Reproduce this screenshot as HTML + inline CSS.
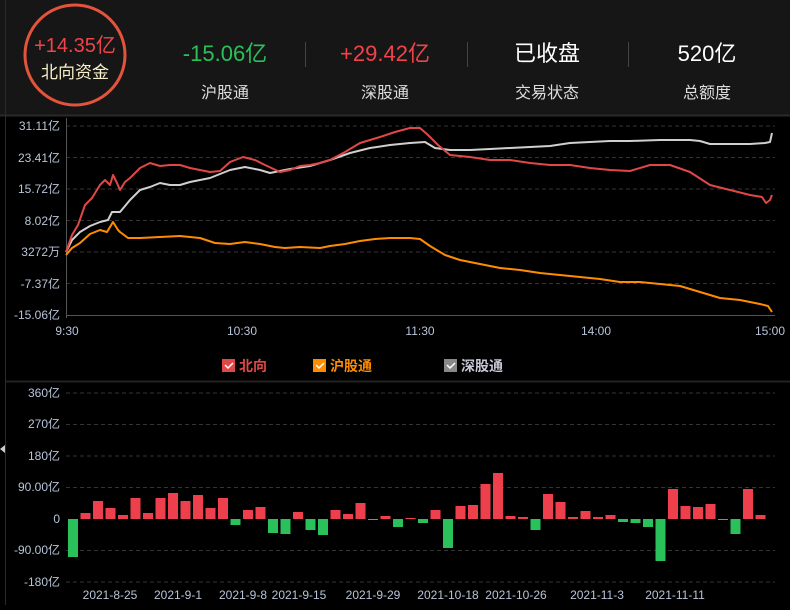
<!DOCTYPE html><html><head><meta charset="utf-8"><style>
body{margin:0;width:790px;height:605px;background:#000;overflow:hidden;font-family:"Liberation Sans","Noto Sans CJK SC",sans-serif}
</style></head><body>
<svg width="790" height="605" xmlns="http://www.w3.org/2000/svg" font-family="Liberation Sans, Noto Sans CJK SC, sans-serif">
<rect x="0" y="0" width="790" height="115" fill="#161616"/>
<rect x="0" y="115" width="790" height="490" fill="#000"/>
<line x1="5.5" y1="0" x2="5.5" y2="605" stroke="#2a2a2a"/>
<line x1="0" y1="115.5" x2="790" y2="115.5" stroke="#2a2a2a" stroke-width="2"/>
<circle cx="75" cy="55" r="50" fill="none" stroke="#e4533b" stroke-width="3"/>
<text x="75" y="52" text-anchor="middle" font-size="20" fill="#f0434a">+14.35亿</text>
<text x="75" y="78" text-anchor="middle" font-size="17" fill="#f5f0c8">北向资金</text>
<text x="225" y="61" text-anchor="middle" font-size="22" fill="#2ac05a">-15.06亿</text>
<text x="225" y="98" text-anchor="middle" font-size="16" fill="#ddd">沪股通</text>
<text x="385" y="61" text-anchor="middle" font-size="22" fill="#f0434a">+29.42亿</text>
<text x="385" y="98" text-anchor="middle" font-size="16" fill="#ddd">深股通</text>
<text x="547" y="61" text-anchor="middle" font-size="22" fill="#fff">已收盘</text>
<text x="547" y="98" text-anchor="middle" font-size="16" fill="#ddd">交易状态</text>
<text x="707" y="61" text-anchor="middle" font-size="22" fill="#fff">520亿</text>
<text x="707" y="98" text-anchor="middle" font-size="16" fill="#ddd">总额度</text>
<g stroke="#444"><line x1="305.5" y1="42" x2="305.5" y2="67"/><line x1="467.5" y1="42" x2="467.5" y2="67"/><line x1="628.5" y1="42" x2="628.5" y2="67"/></g>
<g stroke="#333" stroke-dasharray="4,3">
<line x1="66" y1="126" x2="775" y2="126"/><line x1="66" y1="157.5" x2="775" y2="157.5"/><line x1="66" y1="189" x2="775" y2="189"/><line x1="66" y1="220.5" x2="775" y2="220.5"/><line x1="66" y1="252" x2="775" y2="252"/><line x1="66" y1="283.5" x2="775" y2="283.5"/>
</g>
<line x1="66.5" y1="118" x2="66.5" y2="318" stroke="#555"/>
<line x1="66" y1="315.5" x2="775" y2="315.5" stroke="#555"/>
<g font-size="12" fill="#b8c4d8" text-anchor="end">
<text x="60" y="130">31.11亿</text><text x="60" y="162">23.41亿</text><text x="60" y="193">15.72亿</text><text x="60" y="225">8.02亿</text><text x="60" y="256">3272万</text><text x="60" y="288">-7.37亿</text><text x="60" y="319">-15.06亿</text>
</g>
<g font-size="12" fill="#b8c4d8" text-anchor="middle">
<text x="67" y="335">9:30</text><text x="242" y="335">10:30</text><text x="420" y="335">11:30</text><text x="596" y="335">14:00</text><text x="770" y="335">15:00</text>
</g>
<g fill="none" stroke-width="2" stroke-linejoin="round">
<polyline stroke="#ff8c00" points="66,255 72,248 80,243 90,234 100,230 107,232 113,222 118,230 120,232 128,238 140,238 160,237 180,236 200,238 215,243 230,244 245,242 260,244 275,247 285,248 300,247 320,248 330,246 345,244 360,241 375,239 390,238 410,238 420,239 430,246 445,255 460,260 480,264 500,268 520,270 540,273 560,275 580,277 600,279 620,282 640,282 660,284 680,286 700,292 720,298 740,300 760,304 768,306 772,312"/>
<polyline stroke="#cfcfcf" points="66,252 72,240 80,232 90,226 100,222 108,220 112,212 120,212 130,200 140,190 150,187 160,183 170,185 180,185 190,182 200,180 210,178 230,170 245,167 260,170 270,173 290,169 310,166 330,160 350,153 370,148 390,145 410,143 425,142 435,148 450,150 470,150 490,149 510,148 530,147 550,146 570,143 590,142 610,141 630,141 660,140 690,140 700,141 710,144 730,144 750,144 765,143 770,142 772,133"/>
<polyline stroke="#e04848" points="66,252 72,235 78,225 85,205 92,198 100,185 105,180 110,185 113,175 117,183 120,190 125,182 130,178 140,168 150,163 160,166 170,165 180,165 190,168 200,170 210,172 220,171 230,162 243,157 255,160 265,165 280,172 290,170 300,166 310,165 320,163 330,160 345,152 360,143 380,137 395,132 410,128 420,128 428,135 438,145 450,155 470,157 490,160 510,160 530,163 550,165 570,165 590,168 610,170 630,171 650,165 670,165 690,172 710,185 730,190 750,195 762,197 766,203 770,200 772,195"/>
</g>
<g font-size="14" font-weight="bold">
<rect x="222" y="359" width="13" height="13" fill="#e04848"/><path d="M225,365 l3,3 l5,-5" stroke="#fff" fill="none" stroke-width="1.5"/><text x="239" y="371" fill="#e04848">北向</text>
<rect x="313" y="359" width="13" height="13" fill="#ff8c00"/><path d="M316,365 l3,3 l5,-5" stroke="#fff" fill="none" stroke-width="1.5"/><text x="330" y="371" fill="#ff8c00">沪股通</text>
<rect x="444" y="359" width="13" height="13" fill="#888"/><path d="M447,365 l3,3 l5,-5" stroke="#fff" fill="none" stroke-width="1.5"/><text x="461" y="371" fill="#c8c8d8">深股通</text>
</g>
<line x1="6" y1="381.5" x2="790" y2="381.5" stroke="#222" stroke-width="2"/>
<g stroke="#333" stroke-dasharray="4,3">
<line x1="66" y1="393" x2="775" y2="393"/><line x1="66" y1="424.5" x2="775" y2="424.5"/><line x1="66" y1="456" x2="775" y2="456"/><line x1="66" y1="487.5" x2="775" y2="487.5"/><line x1="66" y1="550.5" x2="775" y2="550.5"/><line x1="66" y1="582" x2="775" y2="582"/>
</g>
<g font-size="12" fill="#b8c4d8" text-anchor="end">
<text x="60" y="397">360亿</text><text x="60" y="428">270亿</text><text x="60" y="460">180亿</text><text x="60" y="491">90.00亿</text><text x="60" y="523">0</text><text x="60" y="554">-90.00亿</text><text x="60" y="586">-180亿</text>
</g>
<g id="bars"></g>
<g font-size="12" fill="#b8c4d8" text-anchor="middle">
<text x="110" y="599">2021-8-25</text><text x="178" y="599">2021-9-1</text><text x="243" y="599">2021-9-8</text><text x="299" y="599">2021-9-15</text><text x="373" y="599">2021-9-29</text><text x="448" y="599">2021-10-18</text><text x="516" y="599">2021-10-26</text><text x="597" y="599">2021-11-3</text><text x="675" y="599">2021-11-11</text>
</g>
<path d="M0,449 l5,-4 v8z" fill="#ccc"/>
</svg>
<script>
var v=[-38,6,18,11,4,21,6,21,26,18,24,11,21,-6,9,12,-14,-15,7,-11,-16,9,5,16,-1,3,-8,1,-4,9,-29,13,14,35,46,3,2,-11,25,17,2,8,2,4,-3,-4,-8,-42,30,13,12,15,-1,-15,30,4];
var g=document.getElementById('bars'),s='';
v.forEach(function(h,i){var x=68+i*12.5;var y=h>0?519-h:519;s+='<rect x="'+x+'" y="'+y+'" width="10" height="'+Math.max(1,Math.abs(h))+'" fill="'+(h>0?'#ee3f4d':'#2ac05a')+'"/>';});
g.innerHTML=s;
</script>
</body></html>
